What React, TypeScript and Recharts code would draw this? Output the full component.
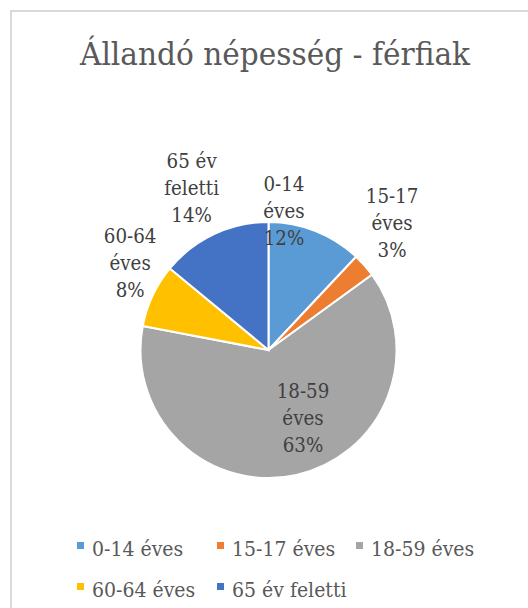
import React from 'react'
import { PieChart, Pie, Cell, Legend } from 'recharts'

const categories = ['0-14 éves', '15-17 éves', '18-59 éves', '60-64 éves', '65 év feletti']
const shares = [12, 3, 63, 8, 14]
const colors = ['#5B9BD5', '#ED7D31', '#A5A5A5', '#FFC000', '#4472C4']

// Excel "best fit" style label placement: radius factor and angle nudge per slice
const labelRadius = [1.1, 1.39, 0.59, 1.28, 1.41]
const labelNudge = [15.3, 4.6, 14.6, -7.2, 0]

// only serif face available is DejaVu Serif, squeeze it to look like Times
const FONT = 'DejaVu Serif'
const SQUEEZE = 0.87
const RAD = Math.PI / 180

const chartData = categories.map((name, i) => ({ name, value: shares[i] }))

const renderLabel = (props: any) => {
  const { cx, cy, midAngle, outerRadius, index, percent, name } = props
  const angle = (midAngle + labelNudge[index]) * RAD
  const r = outerRadius * labelRadius[index]
  const x = cx + r * Math.cos(-angle)
  const y = cy + r * Math.sin(-angle)
  const cut = name.lastIndexOf(' ')
  const lines = [name.slice(0, cut), name.slice(cut + 1), `${Math.round(percent * 100)}%`]
  return (
    <g transform={`translate(${x},0) scale(${SQUEEZE},1) translate(${-x},0)`}>
      <text x={x} y={y} textAnchor="middle" fill="#404040" fontSize={21} style={{ fontFamily: FONT }}>
        {lines.map((l, i) => (
          <tspan key={i} x={x} y={y + 8 + (i - 1) * 27}>
            {l}
          </tspan>
        ))}
      </text>
    </g>
  )
}

const renderLegend = (props: any) => {
  const payload = props.payload && props.payload.length
    ? props.payload
    : categories.map((c, i) => ({ value: c, color: colors[i] }))
  return (
    <div
      style={{
        display: 'grid',
        gridTemplateColumns: '139.5px 139.5px 139.5px',
        fontFamily: FONT,
        fontSize: 21,
        color: '#595959',
      }}
    >
      {payload.map((p: any, i: number) => (
        <div key={i} style={{ display: 'flex', height: 41, lineHeight: '41px', whiteSpace: 'nowrap' }}>
          <span
            style={{
              display: 'inline-block',
              width: 7,
              height: 7,
              marginTop: 13,
              marginRight: 8,
              background: p.color,
              flex: 'none',
            }}
          />
          <span style={{ display: 'inline-block', transform: 'scaleX(0.9)', transformOrigin: 'left center' }}>
            {p.value}
          </span>
        </div>
      ))}
    </div>
  )
}

export default function App() {
  return (
    <div
      style={{
        position: 'fixed',
        left: 0,
        top: 0,
        width: 528,
        height: 608,
        overflow: 'hidden',
        background: '#fff',
      }}
    >
      <div
        style={{
          position: 'absolute',
          left: 10,
          top: 10,
          width: 600,
          height: 700,
          border: '2px solid #d9d9d9',
          boxSizing: 'border-box',
        }}
      />
      <svg width={528} height={100} style={{ position: 'absolute', left: 0, top: 0 }}>
        <text
          x={275}
          y={65}
          textAnchor="middle"
          fill="#595959"
          fontSize={32.5}
          textLength={390}
          lengthAdjust="spacingAndGlyphs"
          style={{ fontFamily: FONT }}
        >
          Állandó népesség - férfiak
        </text>
      </svg>
      <div style={{ position: 'absolute', left: 0, top: 0 }}>
        <PieChart width={528} height={608} margin={{ top: 0, right: 0, bottom: 0, left: 0 }}>
          <Pie
            data={chartData}
            dataKey="value"
            nameKey="name"
            cx={268.5}
            cy={350}
            outerRadius={128}
            startAngle={90}
            endAngle={-270}
            stroke="#fff"
            strokeWidth={2}
            label={renderLabel}
            labelLine={false}
            isAnimationActive={false}
          >
            {chartData.map((d, i) => (
              <Cell key={d.name} fill={colors[i]} />
            ))}
          </Pie>
          <Legend
            content={renderLegend}
            wrapperStyle={{ position: 'absolute', left: 77, top: 529, width: 440 }}
          />
        </PieChart>
      </div>
    </div>
  )
}
